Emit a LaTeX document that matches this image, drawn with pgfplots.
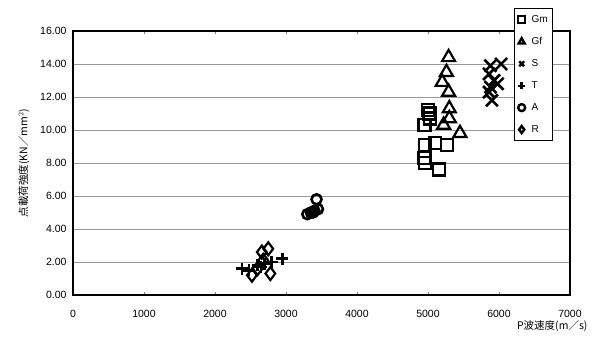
\documentclass[border=0pt]{standalone}
\usepackage{pgfplots}
\pgfplotsset{compat=1.18}
\usepackage{fontspec}
\setmainfont{Liberation Sans}
\newfontfamily\jp{Noto Sans CJK JP}
\begin{document}
\begin{tikzpicture}[x=1pt,y=1pt]
\useasboundingbox (0,0) rectangle (592,348);
\begin{axis}[
  at={(73pt,53pt)}, anchor=south west,
  scale only axis, width=497pt, height=264pt,
  xmin=0, xmax=7000, ymin=0, ymax=16,
  xtick={0,1000,...,7000}, ytick={0,2,...,16},
  ymajorgrids, grid style={gray!80, line width=0.7pt},
  axis line style={line width=2pt},
  tick align=inside, major tick length=3pt,
  ytick style={draw=none},
  xtick style={line width=0.7pt},
  /pgf/number format/assume math mode=true,
  /pgf/number format/set thousands separator={},
  tick label style={font=\fontsize{10.5}{12}\selectfont},
  xticklabel style={yshift=-12pt},
  yticklabel style={/pgf/number format/fixed, /pgf/number format/fixed zerofill, /pgf/number format/precision=2, xshift=-3pt},
  xlabel={\jp P波速度(m／s)},
  xlabel style={at={(rel axis cs:1,0)}, anchor=north east, xshift=21pt, yshift=-22pt, font=\jp\fontsize{10.5}{12}\selectfont},
  ylabel={\jp 点載荷強度(KN／mm$^2$)},
  ylabel style={font=\jp\fontsize{10.5}{12}\selectfont, yshift=4pt},
  clip=false,
  legend style={at={(rel axis cs:0.887,1.087)}, anchor=north west, draw=black, line width=0.7pt,
    font=\fontsize{10}{11}\selectfont, row sep=9.5pt, inner xsep=4pt, inner ysep=5pt,
    nodes={inner xsep=1pt}},
  legend cell align=left,
  legend image code/.code={%
     \draw[#1, mark size=3.5pt, line width=2.4pt, mark options={line width=2.4pt}] plot coordinates {(0.1cm,0cm)};},
]
\addplot[only marks, mark=square, mark size=6pt, line width=2.2pt] coordinates {
(4950,10.3) (5020,11.0) (5000,11.2) (4960,9.1) (4950,8.3) (4960,8.0)
(5150,7.6) (5270,9.1) (5100,9.2) (5030,10.7)
};
\addlegendentry{\hspace{5.5pt}Gm}
\addplot[only marks, mark=triangle, mark size=7.5pt, line width=2.2pt] coordinates {
(5290,14.4) (5260,13.5) (5200,12.9) (5290,12.3) (5300,11.3) (5300,10.7) (5220,10.3) (5450,9.8)
};
\addlegendentry{\hspace{5.5pt}Gf}
\addplot[only marks, mark=x, mark size=8.5pt, line width=2.6pt] coordinates {
(5880,13.9) (6030,14.0) (5860,13.4) (5930,13.0) (5880,12.6) (5860,12.3) (5900,11.8) (5980,12.8)
};
\addlegendentry{\hspace{5.5pt}S}
\addplot[only marks, mark=+, mark size=6pt, line width=2.6pt] coordinates {
(2380,1.6) (2480,1.5) (2600,1.8) (2700,1.9) (2800,2.0) (2950,2.2) (2650,1.7)
};
\addlegendentry{\hspace{5.5pt}T}
\addplot[only marks, mark=o, mark size=5pt, line width=2.6pt] coordinates {
(3300,4.9) (3350,5.0) (3400,5.1) (3450,5.2) (3430,5.8) (3380,5.0)
};
\addlegendentry{\hspace{5.5pt}A}
\addplot[only marks, mark=diamond, mark size=6.5pt, line width=2.2pt] coordinates {
(2750,2.8) (2660,2.6) (2520,1.2) (2780,1.3) (2600,1.6) (2680,2.1)
};
\addlegendentry{\hspace{5.5pt}R}
\end{axis}
\end{tikzpicture}
\end{document}
